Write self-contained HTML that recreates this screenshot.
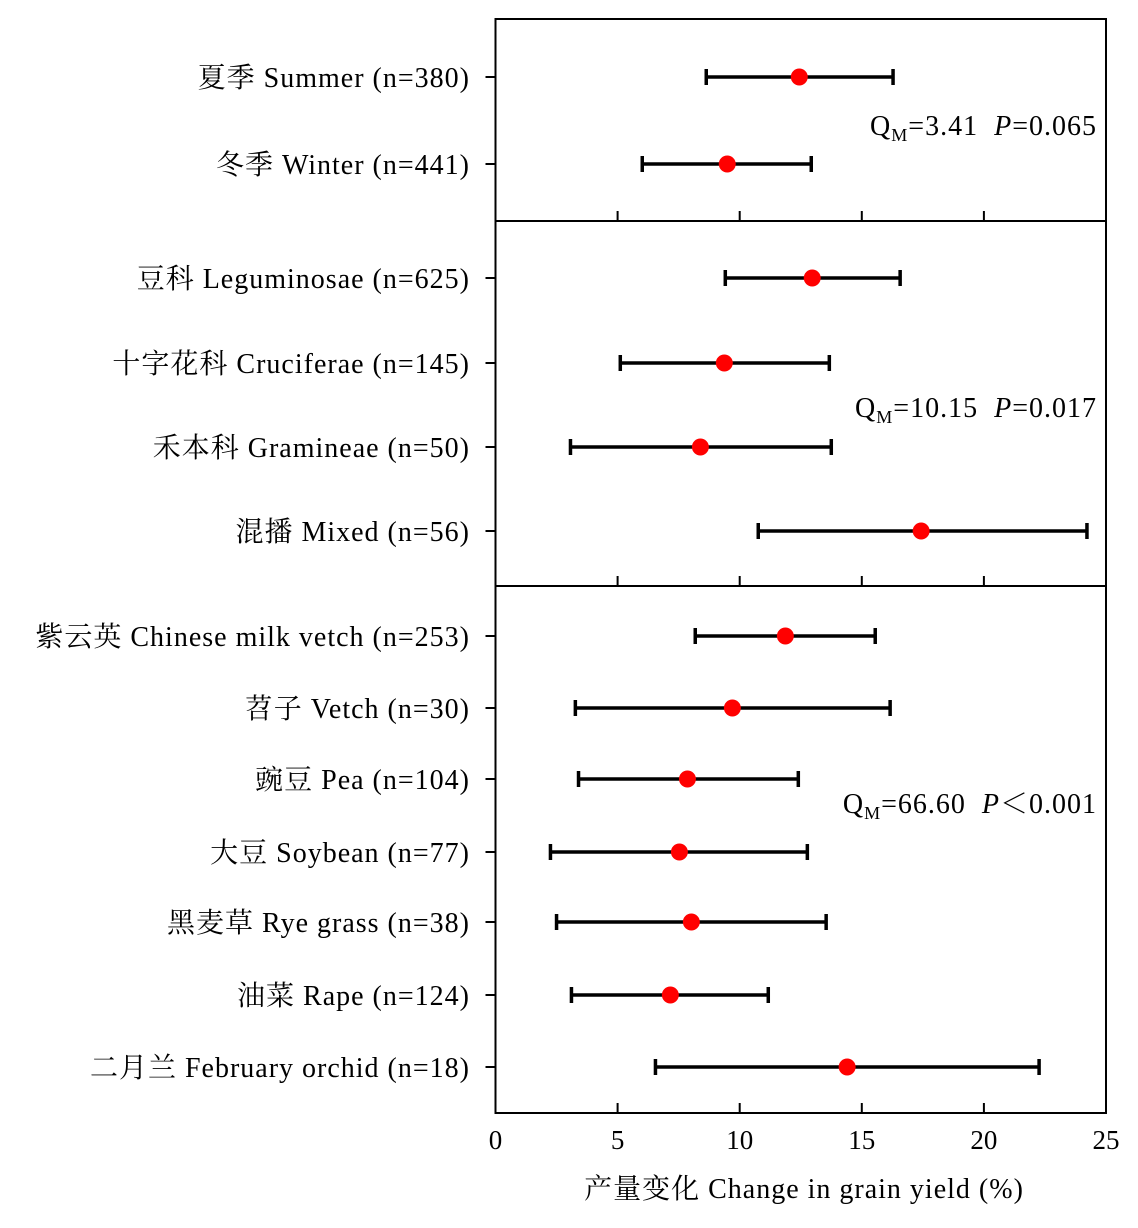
<!DOCTYPE html>
<html><head><meta charset="utf-8"><style>
html,body{margin:0;padding:0;background:#fff;}
svg text{font-family:"Liberation Serif","Noto Serif CJK SC","Noto Sans CJK SC",serif;fill:#000;}
</style></head><body>
<svg id="chart" width="1138" height="1223" viewBox="0 0 1138 1223" xmlns="http://www.w3.org/2000/svg"></svg>
<script>
const labels = ["夏季 Summer (n=380)","冬季 Winter (n=441)","豆科 Leguminosae (n=625)","十字花科 Cruciferae (n=145)","禾本科 Gramineae (n=50)","混播 Mixed (n=56)","紫云英 Chinese milk vetch (n=253)","苕子 Vetch (n=30)","豌豆 Pea (n=104)","大豆 Soybean (n=77)","黑麦草 Rye grass (n=38)","油菜 Rape (n=124)","二月兰 February orchid (n=18)"];
const means = [12.44,9.49,12.97,9.37,8.39,17.43,11.87,9.70,7.86,7.53,8.02,7.16,14.40];
const lows = [8.63,6.01,9.41,5.11,3.07,10.76,8.18,3.27,3.40,2.25,2.50,3.11,6.55];
const highs = [16.28,12.93,16.57,13.67,13.75,24.22,15.55,16.16,12.40,12.77,13.54,11.17,22.26];
const panelOf = [0,0,1,1,1,1,2,2,2,2,2,2,2];
const xTicks = [0,5,10,15,20,25];
const stats = [["3.41","0.065","="],["10.15","0.017","="],["66.60","0.001","＜"]];

const NS="http://www.w3.org/2000/svg", svg=document.getElementById('chart');
const X0=495.5, X1=1106;
const xs=v=>X0+(X1-X0)*v/25;
const rowY=[77,164,278,363,447,531,636,708,779,852,922,995,1067];
const panels=[[19,221],[221,586],[586,1113]];
const statY=[135,417,813];
function mk(t,a,p){const e=document.createElementNS(NS,t);for(const k in a)e.setAttribute(k,a[k]);(p||svg).appendChild(e);return e;}

panels.forEach((p,i)=>{
  const r=mk('rect',{x:X0,y:p[0],width:X1-X0,height:p[1]-p[0],fill:'none',stroke:'#000','stroke-width':2});
  
  
  xTicks.slice(1,-1).forEach(t=>{
    const l=mk('line',{x1:xs(t),x2:xs(t),y1:p[1],y2:p[1]-10,stroke:'#000','stroke-width':2});
    
    
  });
  const s=mk('text',{x:1097,y:statY[i],'font-size':28,'text-anchor':'end','letter-spacing':1});
  
  
  s.innerHTML='Q<tspan font-size="18" dy="6">M</tspan><tspan dy="-6">='+stats[i][0]+'</tspan><tspan dx="16" font-style="italic">P</tspan>'+stats[i][2]+stats[i][1];
});

labels.forEach((lab,i)=>{
  const y=rowY[i];
  const t=mk('text',{x:470,y:y+10,'font-size':28,'text-anchor':'end','letter-spacing':1});
  t.textContent=lab;
  
  
  const tk=mk('line',{x1:X0-10,x2:X0,y1:y,y2:y,stroke:'#000','stroke-width':2});
  
  
  const g=mk('g',{});
  
  
  mk('line',{x1:xs(lows[i]),x2:xs(highs[i]),y1:y,y2:y,stroke:'#000','stroke-width':3.5},g);
  mk('line',{x1:xs(lows[i]),x2:xs(lows[i]),y1:y-8,y2:y+8,stroke:'#000','stroke-width':3.5},g);
  mk('line',{x1:xs(highs[i]),x2:xs(highs[i]),y1:y-8,y2:y+8,stroke:'#000','stroke-width':3.5},g);
  const c=mk('circle',{cx:xs(means[i]),cy:y,r:8.5,fill:'#ff0000'});
  
  
});

xTicks.forEach(t=>{
  const tx=mk('text',{x:xs(t),y:1149,'font-size':27,'text-anchor':'middle'});
  tx.textContent=t;
  
  
});
const xt=mk('text',{x:804,y:1198,'font-size':28,'text-anchor':'middle','letter-spacing':1});
xt.textContent='产量变化 Change in grain yield (%)';


</script>
</body></html>
